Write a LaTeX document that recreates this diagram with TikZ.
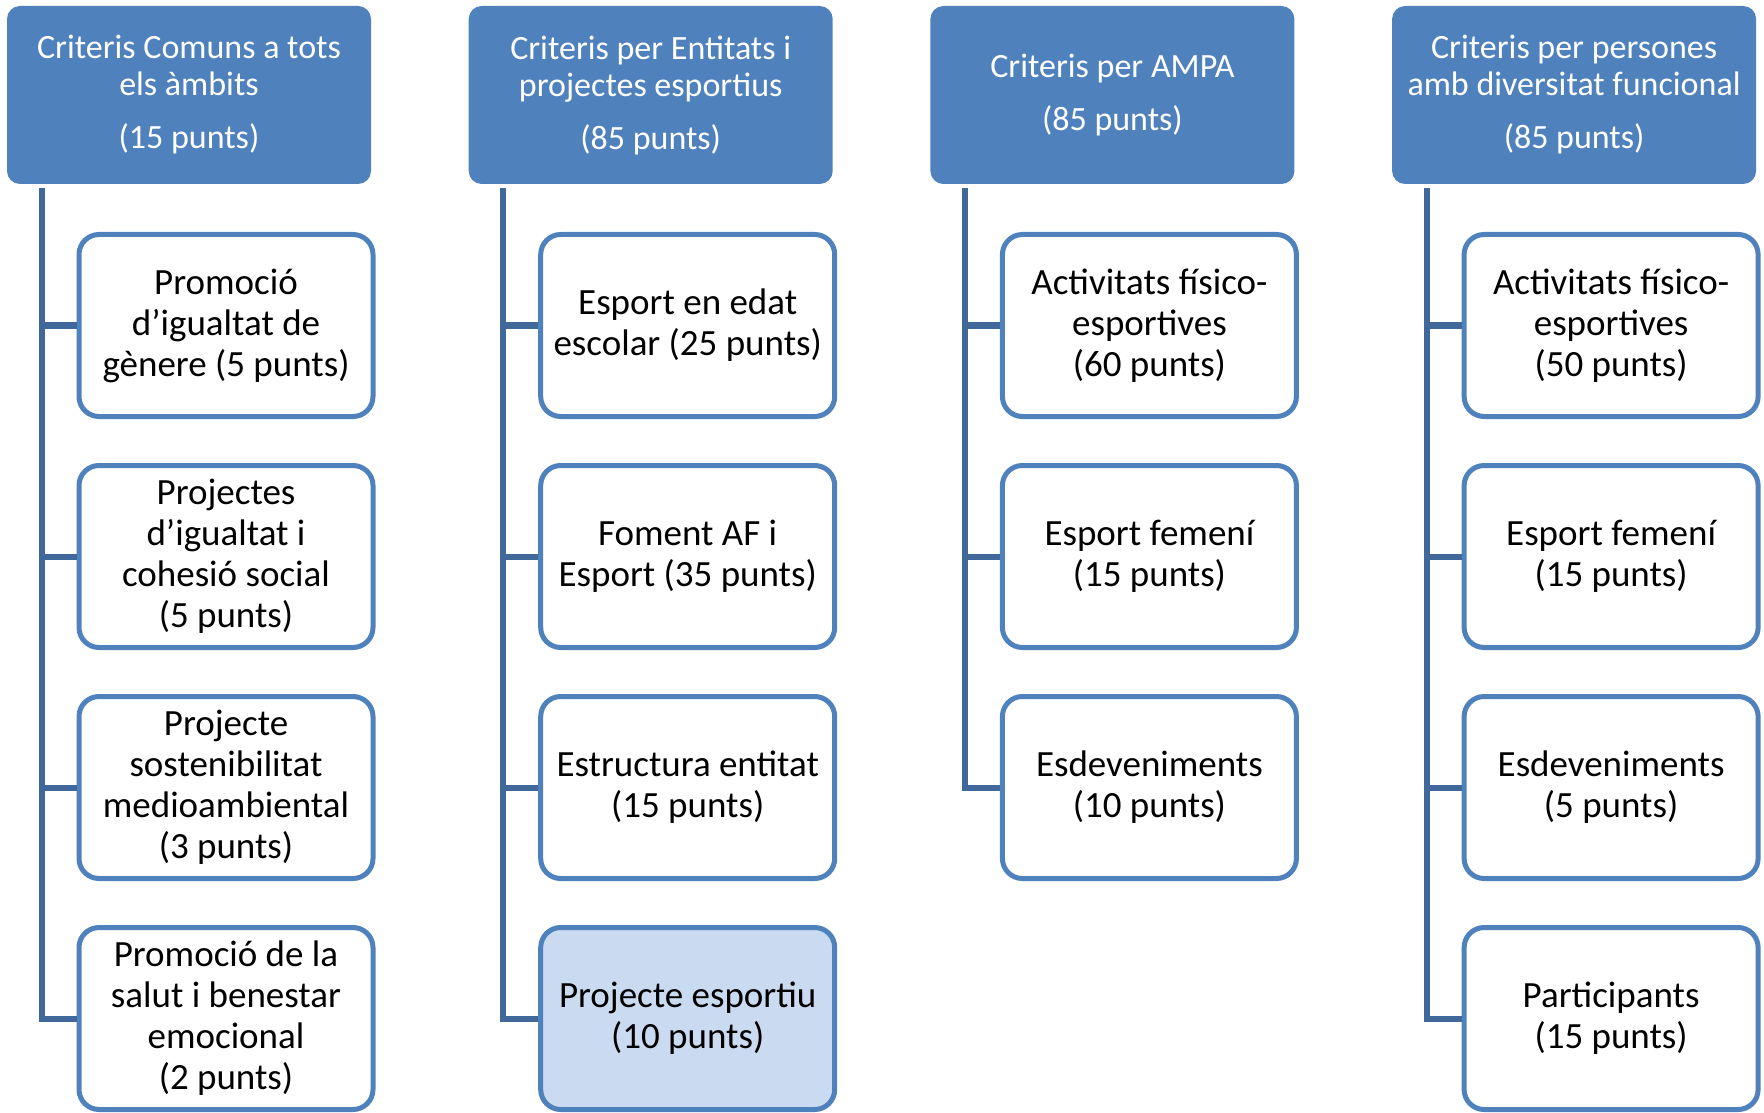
\documentclass[tikz,border=0pt]{standalone}
\usepackage{fontspec}
\setmainfont{Carlito}
\usepackage{tikz}
\usetikzlibrary{calc}
\definecolor{sblue}{HTML}{4F81BD}
\definecolor{sdark}{HTML}{41689B}
\definecolor{slight}{HTML}{CADAF0}

\begin{document}
\begin{tikzpicture}[x=0.5pt, y=-0.5pt,
    HBX/.style={rectangle, fill=sblue, rounded corners=6.5pt, minimum width=182pt, minimum height=89pt, inner sep=0pt, align=center, text=white, font=\fontsize{17}{18.5}\selectfont},
    CBX/.style={rectangle, draw=sblue, line width=2.5pt, fill=white, rounded corners=10pt, minimum width=147pt, minimum height=91pt, inner sep=0pt, align=center, font=\fontsize{18.5}{20.5}\selectfont},
    TRK/.style={draw=sdark, line width=3pt}
    ]
        \useasboundingbox (0,0) rectangle (1764,1112);
        % headers
        \node[HBX] (H1) at (189,95) {Criteris Comuns a tots\\els àmbits\\[8pt](15 punts)};
        \node[HBX] (H2) at ($(H1)+(461.7,0)$) {Criteris per Entitats i\\projectes esportius\\[8pt](85 punts)};
        \node[HBX] (H3) at ($(H2)+(461.7,0)$) {Criteris per AMPA\\[8pt](85 punts)};
        \node[HBX] (H4) at ($(H3)+(461.7,0)$) {Criteris per persones\\amb diversitat funcional\\[8pt](85 punts)};
        % column 1
        \node[CBX] (C11) at ($(H1)+(37,230.5)$) {Promoció\\d’igualtat de\\gènere (5 punts)};
        \node[CBX] (C12) at ($(C11)+(0,231)$) {Projectes\\d’igualtat i\\cohesió social\\(5 punts)};
        \node[CBX] (C13) at ($(C12)+(0,231)$) {Projecte\\sostenibilitat\\medioambiental\\(3 punts)};
        \node[CBX] (C14) at ($(C13)+(0,231)$) {Promoció de la\\salut i benestar\\emocional\\(2 punts)};
        % column 2
        \node[CBX] (C21) at ($(H2)+(37,230.5)$) {Esport en edat\\escolar (25 punts)};
        \node[CBX] (C22) at ($(C21)+(0,231)$) {Foment AF i\\Esport (35 punts)};
        \node[CBX] (C23) at ($(C22)+(0,231)$) {Estructura entitat\\(15 punts)};
        \node[CBX, fill=slight] (C24) at ($(C23)+(0,231)$) {Projecte esportiu\\(10 punts)};
        % column 3
        \node[CBX] (C31) at ($(H3)+(37,230.5)$) {Activitats físico-\\esportives\\(60 punts)};
        \node[CBX] (C32) at ($(C31)+(0,231)$) {Esport femení\\(15 punts)};
        \node[CBX] (C33) at ($(C32)+(0,231)$) {Esdeveniments\\(10 punts)};
        % column 4
        \node[CBX] (C41) at ($(H4)+(37,230.5)$) {Activitats físico-\\esportives\\(50 punts)};
        \node[CBX] (C42) at ($(C41)+(0,231)$) {Esport femení\\(15 punts)};
        \node[CBX] (C43) at ($(C42)+(0,231)$) {Esdeveniments\\(5 punts)};
        \node[CBX] (C44) at ($(C43)+(0,231)$) {Participants\\(15 punts)};
        % trunks
        \coordinate (T1) at ($(H1.south)+(-147.5,4)$);
        \coordinate (T2) at ($(H2.south)+(-147.5,4)$);
        \coordinate (T3) at ($(H3.south)+(-147.5,4)$);
        \coordinate (T4) at ($(H4.south)+(-147.5,4)$);
        \draw[TRK] (T1) |- (C14.west) (T1 |- C11.west) -- (C11.west) (T1 |- C12.west) -- (C12.west) (T1 |- C13.west) -- (C13.west);
        \draw[TRK] (T2) |- (C24.west) (T2 |- C21.west) -- (C21.west) (T2 |- C22.west) -- (C22.west) (T2 |- C23.west) -- (C23.west);
        \draw[TRK] (T3) |- (C33.west) (T3 |- C31.west) -- (C31.west) (T3 |- C32.west) -- (C32.west);
        \draw[TRK] (T4) |- (C44.west) (T4 |- C41.west) -- (C41.west) (T4 |- C42.west) -- (C42.west) (T4 |- C43.west) -- (C43.west);
    \end{tikzpicture}
\end{document}
